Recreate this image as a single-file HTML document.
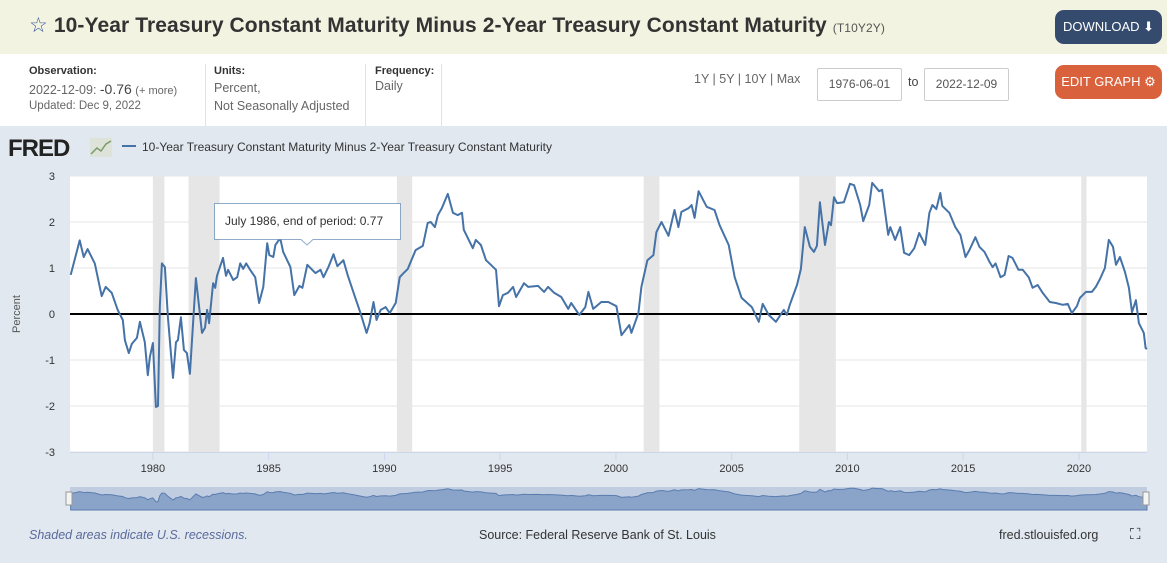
<!DOCTYPE html>
<html><head><meta charset="utf-8">
<style>
body{margin:0;width:1167px;height:563px;overflow:hidden;font-family:"Liberation Sans",sans-serif;background:#e1e8f0;position:relative}
.hdr{position:absolute;left:0;top:0;width:1167px;height:54px;background:#f2f3e0}
.title{position:absolute;left:29px;top:13px;font-size:21px;font-weight:bold;color:#333;white-space:nowrap;letter-spacing:0.1px}
.title small{font-size:12px;font-weight:normal;color:#555}
.btn{position:absolute;color:#fff;font-size:13px;border-radius:9px;text-align:center}
.info{position:absolute;left:0;top:54px;width:1167px;height:72px;background:#fff}
.lab{position:absolute;font-size:11px;font-weight:bold;color:#333}
.val{position:absolute;font-size:12.5px;color:#666;white-space:nowrap}
.sep{position:absolute;top:64px;width:1px;height:62px;background:#dde3ea}
.inp{position:absolute;top:68px;width:83px;height:31px;border:1px solid #ccc;border-radius:2px;background:#fff;font-size:12px;color:#555;line-height:31px;text-align:center}
</style></head><body>
<div class="hdr"></div>
<div class="title"><span style="color:#3a5a9c;font-weight:normal">☆</span> 10-Year Treasury Constant Maturity Minus 2-Year Treasury Constant Maturity <small>(T10Y2Y)</small></div>
<div class="btn" style="left:1055px;top:10px;width:107px;height:34px;line-height:34px;background:#354b6e">DOWNLOAD ⬇</div>
<div class="info"></div>
<div class="lab" style="left:29px;top:65px">Observation:</div>
<div class="val" style="left:29px;top:81px">2022-12-09: <span style="font-size:14px;color:#444">-0.76</span> <span style="font-size:11px">(+ more)</span></div>
<div class="val" style="left:29px;top:100px;font-size:11.5px">Updated: Dec 9, 2022</div>
<div class="sep" style="left:205px"></div>
<div class="lab" style="left:214px;top:65px">Units:</div>
<div class="val" style="left:214px;top:79px;line-height:18px">Percent,<br>Not Seasonally Adjusted</div>
<div class="sep" style="left:365px"></div>
<div class="lab" style="left:375px;top:65px">Frequency:</div>
<div class="val" style="left:375px;top:79px">Daily</div>
<div class="sep" style="left:441px"></div>
<div class="val" style="left:694px;top:72px;color:#666">1Y | 5Y | 10Y | Max</div>
<div class="inp" style="left:817px">1976-06-01</div>
<div class="val" style="left:908px;top:75px;color:#444">to</div>
<div class="inp" style="left:924px">2022-12-09</div>
<div class="btn" style="left:1055px;top:65px;width:107px;height:34px;line-height:34px;background:#d9623d">EDIT GRAPH ⚙</div>

<svg id="chart" width="1167" height="437" style="position:absolute;left:0;top:126px">
<g transform="translate(0,-126)">
<text x="8" y="156" font-size="24" font-weight="bold" fill="#222" font-family="Liberation Sans" letter-spacing="-1">FRED</text>
<rect x="90" y="138" width="22" height="19" fill="#dde3d8"/>
<polyline points="91,154 97,148 101,151 106,144 111,141" fill="none" stroke="#7a9c6a" stroke-width="1.5"/>
<line x1="122" y1="146" x2="136" y2="146" stroke="#4572a7" stroke-width="2"/>
<text x="142" y="151" font-size="12" fill="#333" font-family="Liberation Sans">10-Year Treasury Constant Maturity Minus 2-Year Treasury Constant Maturity</text>
<rect x="70" y="176" width="1077" height="276" fill="#fff"/>
<g id="rec"></g><g id="grid"></g><g id="xax"></g>
<path id="line" fill="none" stroke="#4572a7" stroke-width="2" stroke-linejoin="round"/>
<text x="20" y="314" font-size="11" fill="#555" transform="rotate(-90 20 314)" text-anchor="middle" font-family="Liberation Sans">Percent</text>
<rect x="70" y="487" width="1077" height="23" fill="#c0cce0"/>
<path id="nav" fill="#8aa3c8" stroke="#5a7db0" stroke-width="1"/>
<rect x="66" y="492" width="6" height="13" fill="#f4f4f4" stroke="#999"/>
<rect x="1143" y="492" width="6" height="13" fill="#f4f4f4" stroke="#999"/>
<g>
<path d="M214.5,203.5 H400.5 V239.5 H313 L307,245 L301,239.5 H214.5 Z" fill="#fff" stroke="#4572a7" stroke-opacity="0.6"/>
<text x="225" y="225" font-size="12" fill="#333" font-family="Liberation Sans">July 1986, end of period: 0.77</text>
</g>
</g>
</svg>
<div class="val" style="left:29px;top:528px;font-style:italic;color:#5a6a9a">Shaded areas indicate U.S. recessions.</div>
<div class="val" style="left:479px;top:528px;color:#333">Source: Federal Reserve Bank of St. Louis</div>
<div class="val" style="left:999px;top:528px;color:#333">fred.stlouisfed.org</div>
<div class="val" style="left:1130px;top:526px;color:#222;font-size:15px">⛶</div>
<script>
const years=[1976.45,1976.84,1977.01,1977.18,1977.49,1977.79,1977.96,1978.22,1978.48,1978.70,1978.79,1978.96,1979.09,1979.31,1979.44,1979.65,1979.78,1979.87,1980.00,1980.13,1980.22,1980.30,1980.39,1980.52,1980.65,1980.87,1981.00,1981.08,1981.21,1981.34,1981.47,1981.60,1981.86,1982.12,1982.25,1982.34,1982.43,1982.60,1982.69,1982.77,1983.03,1983.16,1983.25,1983.47,1983.64,1983.77,1983.90,1984.03,1984.20,1984.42,1984.59,1984.77,1984.94,1985.03,1985.20,1985.29,1985.50,1985.63,1985.94,1986.11,1986.33,1986.46,1986.67,1987.02,1987.24,1987.37,1987.58,1987.80,1987.97,1988.23,1988.41,1988.67,1988.97,1989.23,1989.36,1989.53,1989.66,1989.84,1990.05,1990.23,1990.49,1990.66,1990.83,1991.01,1991.35,1991.66,1991.87,1992.00,1992.18,1992.31,1992.48,1992.74,1992.96,1993.17,1993.35,1993.43,1993.82,1993.95,1994.17,1994.39,1994.60,1994.82,1994.95,1995.12,1995.34,1995.56,1995.69,1996.03,1996.21,1996.64,1996.90,1997.07,1997.33,1997.64,1997.94,1998.07,1998.42,1998.68,1998.81,1999.02,1999.37,1999.67,2000.02,2000.24,2000.58,2000.67,2000.97,2001.10,2001.36,2001.62,2001.75,2001.97,2002.27,2002.53,2002.70,2002.83,2003.14,2003.27,2003.40,2003.57,2003.92,2004.26,2004.48,2004.87,2005.13,2005.43,2005.87,2006.17,2006.34,2006.60,2006.91,2007.25,2007.38,2007.51,2007.82,2007.99,2008.16,2008.38,2008.55,2008.68,2008.81,2009.03,2009.20,2009.29,2009.42,2009.55,2009.85,2010.11,2010.29,2010.55,2010.68,2010.94,2011.07,2011.37,2011.50,2011.76,2011.85,2012.06,2012.28,2012.45,2012.67,2012.89,2013.10,2013.36,2013.54,2013.67,2013.84,2014.01,2014.10,2014.40,2014.66,2014.88,2015.10,2015.27,2015.53,2015.70,2015.92,2016.14,2016.27,2016.40,2016.61,2016.79,2016.96,2017.13,2017.39,2017.57,2017.83,2018.00,2018.22,2018.43,2018.74,2019.00,2019.30,2019.52,2019.69,2019.91,2020.04,2020.30,2020.56,2020.73,2020.91,2021.12,2021.29,2021.47,2021.60,2021.77,2021.99,2022.16,2022.29,2022.46,2022.59,2022.80,2022.88,2022.94];
const spread=[0.85,1.6,1.24,1.41,1.1,0.39,0.59,0.46,0.09,-0.13,-0.57,-0.85,-0.65,-0.52,-0.17,-0.61,-1.33,-0.93,-0.63,-2.02,-2.0,0.15,1.1,1.02,-0.07,-1.39,-0.61,-0.57,-0.07,-0.78,-0.85,-1.3,0.78,-0.41,-0.3,0.09,-0.2,0.67,0.57,0.83,1.22,0.83,0.96,0.74,0.8,1.1,0.98,1.1,0.96,0.8,0.24,0.59,1.54,1.28,1.24,1.5,1.65,1.35,1.02,0.41,0.61,0.57,1.07,0.89,0.96,0.8,1.02,1.3,1.04,1.17,0.85,0.46,0.02,-0.41,-0.2,0.26,-0.13,0.09,0.15,0.02,0.24,0.8,0.89,0.98,1.39,1.48,1.98,2.0,1.89,2.15,2.3,2.61,2.2,2.15,2.2,1.83,1.43,1.61,1.5,1.17,1.07,0.96,0.17,0.41,0.46,0.59,0.37,0.67,0.59,0.61,0.48,0.59,0.46,0.37,0.11,0.24,-0.02,0.15,0.48,0.11,0.26,0.26,0.17,-0.46,-0.24,-0.41,0.02,0.59,1.17,1.28,1.78,2.0,1.7,2.26,1.89,2.22,2.3,2.37,2.09,2.67,2.33,2.26,1.93,1.5,0.8,0.35,0.15,-0.17,0.22,-0.02,-0.17,0.09,-0.02,0.2,0.63,0.98,1.89,1.46,1.35,1.48,2.43,1.5,2.0,1.93,2.54,2.41,2.43,2.83,2.8,2.37,2.02,2.37,2.85,2.67,2.7,1.72,1.89,1.61,1.89,1.33,1.28,1.43,1.76,1.5,2.2,2.37,2.28,2.63,2.35,2.2,1.89,1.72,1.24,1.39,1.67,1.46,1.35,1.13,1.02,1.1,0.8,0.85,1.26,1.22,0.96,0.96,0.8,0.57,0.63,0.46,0.26,0.24,0.2,0.22,0.02,0.17,0.35,0.48,0.48,0.59,0.76,1.0,1.61,1.46,1.07,1.24,0.91,0.57,0.04,0.3,-0.2,-0.41,-0.74,-0.76];
const recStart=[1980.0,1981.54,1990.54,2001.2,2007.92,2020.1];
const recEnd=[1980.5,1982.88,1991.2,2001.88,2009.5,2020.33];
const yTicks=[3,2,1,0,-1,-2,-3];
const xTicks=[1980,1985,1990,1995,2000,2005,2010,2015,2020];
const X0=70,X1=1147,T0=1976.42,T1=2022.94,Y0=176,Y1=452;
const sx=t=>X0+(t-T0)/(T1-T0)*(X1-X0);
const sy=v=>Y0+(3-v)/6*(Y1-Y0);
const NS='http://www.w3.org/2000/svg';
function mk(tag,at,parent){const e=document.createElementNS(NS,tag);for(const k in at)e.setAttribute(k,at[k]);document.getElementById(parent).appendChild(e);return e;}
recStart.forEach((s,i)=>{const r=mk('rect',{x:sx(s),y:Y0,width:sx(recEnd[i])-sx(s),height:Y1-Y0,fill:'#e6e6e6'},'rec');

});
yTicks.forEach(v=>{const l=mk('line',{x1:X0,x2:X1,y1:sy(v),y2:sy(v),stroke:v===0?'#000':'#e6e6e6','stroke-width':v===0?2:1},'grid');


const t=mk('text',{x:55,y:sy(v)+4,'font-size':11,fill:'#333','text-anchor':'end','font-family':'Liberation Sans'},'grid');t.textContent=v;

});
mk('line',{x1:X0,x2:X1,y1:Y1+0.5,y2:Y1+0.5,stroke:'#ccd6eb'},'xax');
xTicks.forEach(y=>{const l=mk('line',{x1:sx(y),x2:sx(y),y1:Y1,y2:Y1+8,stroke:'#ccd6eb'},'xax');


const t=mk('text',{x:sx(y),y:Y1+20,'font-size':11,fill:'#333','text-anchor':'middle','font-family':'Liberation Sans'},'xax');t.textContent=y;

});
document.getElementById('line').setAttribute('d',years.map((t,i)=>(i?'L':'M')+sx(t).toFixed(1)+','+sy(spread[i]).toFixed(1)).join(''));
const ny=v=>502-(v+2.1)/5*14;
document.getElementById('nav').setAttribute('d','M'+sx(years[0])+',510'+years.map((t,i)=>'L'+sx(t).toFixed(1)+','+ny(spread[i]).toFixed(1)).join('')+'L'+sx(years[years.length-1])+',510Z');
</script>
</body></html>
